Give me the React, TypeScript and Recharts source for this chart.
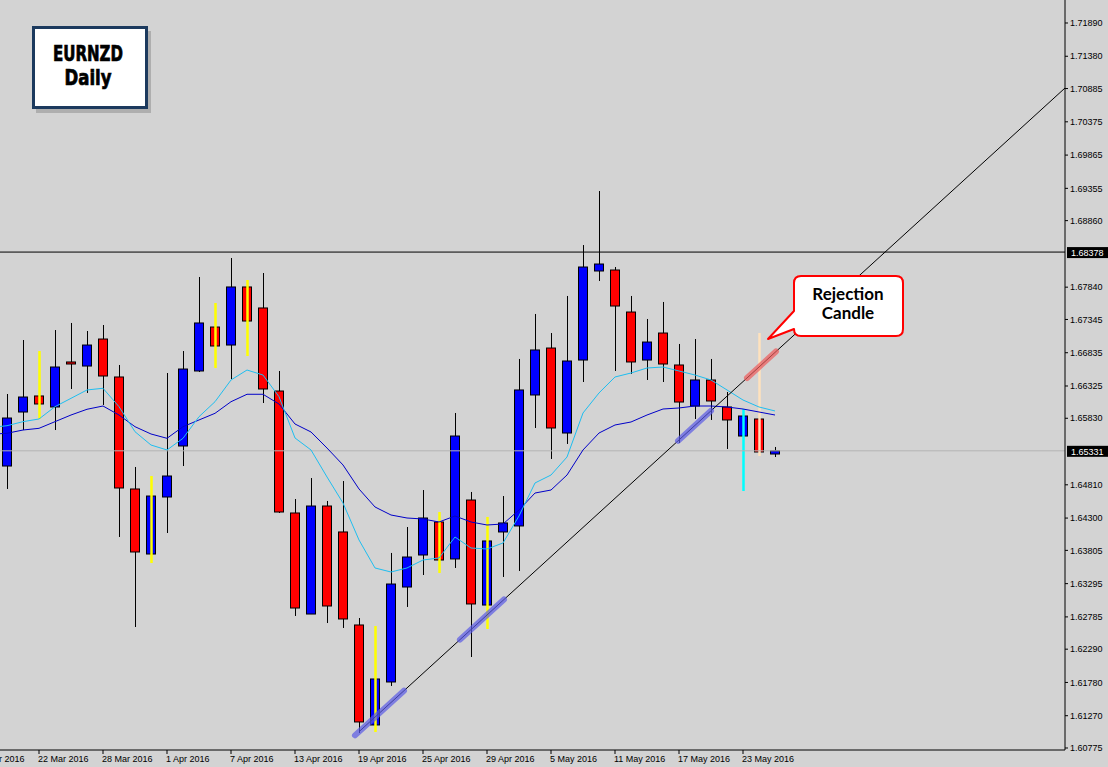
import React from "react";
import { ComposedChart, Bar, Line, XAxis, YAxis, ReferenceLine } from "recharts";

// EURNZD daily bars, 18 Mar 2016 .. 25 May 2016
const dates = [
  "18 Mar 2016", "21 Mar 2016", "22 Mar 2016", "23 Mar 2016", "24 Mar 2016", "25 Mar 2016",
  "28 Mar 2016", "29 Mar 2016", "30 Mar 2016", "31 Mar 2016", "1 Apr 2016", "4 Apr 2016",
  "5 Apr 2016", "6 Apr 2016", "7 Apr 2016", "8 Apr 2016", "11 Apr 2016", "12 Apr 2016",
  "13 Apr 2016", "14 Apr 2016", "15 Apr 2016", "18 Apr 2016", "19 Apr 2016", "20 Apr 2016",
  "21 Apr 2016", "22 Apr 2016", "25 Apr 2016", "26 Apr 2016", "27 Apr 2016", "28 Apr 2016",
  "29 Apr 2016", "2 May 2016", "3 May 2016", "4 May 2016", "5 May 2016", "6 May 2016",
  "9 May 2016", "10 May 2016", "11 May 2016", "12 May 2016", "13 May 2016", "16 May 2016",
  "17 May 2016", "18 May 2016", "19 May 2016", "20 May 2016", "23 May 2016", "24 May 2016",
  "25 May 2016",
];

const opens = [
  1.65098, 1.65926, 1.66172, 1.66003, 1.66693, 1.66631, 1.67045, 1.66463, 1.64746, 1.63749,
  1.64623, 1.65405, 1.66555, 1.67229, 1.66953, 1.67843, 1.67521, 1.66248, 1.64378, 1.62829,
  1.64485, 1.64087, 1.62661, 1.61128, 1.61787, 1.63243, 1.63734, 1.6424, 1.63673, 1.64577,
  1.62967, 1.64087, 1.64179, 1.66187, 1.66907, 1.65604, 1.66723, 1.68088, 1.68103, 1.67459,
  1.66723, 1.67137, 1.66647, 1.66018, 1.66417, 1.66003, 1.65558, 1.65819, 1.65282,
];
const highs = [
  1.66202, 1.6703, 1.66861, 1.67183, 1.67291, 1.67168, 1.6726, 1.66647, 1.65083, 1.64945,
  1.66524, 1.66861, 1.67996, 1.67597, 1.68287, 1.6795, 1.68057, 1.66555, 1.64592, 1.64914,
  1.64562, 1.64868, 1.62768, 1.62645, 1.63765, 1.64163, 1.6473, 1.64393, 1.65911, 1.647,
  1.64317, 1.64638, 1.66739, 1.67429, 1.67137, 1.67705, 1.68486, 1.69314, 1.68149, 1.67705,
  1.67352, 1.67613, 1.66969, 1.67045, 1.66739, 1.66233, 1.65972, 1.67137, 1.6539,
];
const lows = [
  1.64746, 1.6565, 1.65819, 1.6565, 1.66279, 1.66218, 1.66034, 1.6401, 1.6263, 1.63611,
  1.64071, 1.65098, 1.66539, 1.66601, 1.66432, 1.66785, 1.66064, 1.64378, 1.62799, 1.62829,
  1.62691, 1.62615, 1.61005, 1.6102, 1.61726, 1.62937, 1.63427, 1.63458, 1.63535, 1.6217,
  1.62599, 1.63397, 1.63489, 1.65681, 1.65206, 1.65436, 1.66386, 1.67935, 1.66555, 1.66509,
  1.66417, 1.66386, 1.65451, 1.65819, 1.65804, 1.65359, 1.64715, 1.65252, 1.65236,
];
const closes = [
  1.65834, 1.66156, 1.66049, 1.66616, 1.66662, 1.66953, 1.66478, 1.64761, 1.6378, 1.64638,
  1.64945, 1.66585, 1.67291, 1.66938, 1.67843, 1.67321, 1.66279, 1.64393, 1.62921, 1.64485,
  1.62952, 1.62753, 1.61174, 1.61833, 1.63289, 1.63703, 1.64301, 1.63657, 1.65558, 1.62983,
  1.63949, 1.64225, 1.66264, 1.66877, 1.65681, 1.66708, 1.68149, 1.68195, 1.67551, 1.66693,
  1.66999, 1.66662, 1.66079, 1.66417, 1.66095, 1.65804, 1.65865, 1.65313, 1.65331,
];

// fast (light blue) and slow (dark blue) moving averages
const fastMa = [
  1.65716, 1.65778, 1.65819, 1.66008, 1.66136, 1.66264, 1.6629, 1.66008, 1.65624, 1.6542,
  1.65344, 1.65523, 1.65854, 1.66084, 1.66417, 1.6657, 1.66493, 1.66161, 1.65528, 1.65344,
  1.6493, 1.64531, 1.63964, 1.63535, 1.63473, 1.63535, 1.63657, 1.63688, 1.6401, 1.63841,
  1.63826, 1.63918, 1.64332, 1.64838, 1.6496, 1.65236, 1.65911, 1.66218, 1.66463, 1.66524,
  1.66601, 1.66616, 1.66555, 1.66493, 1.66417, 1.66264, 1.6611, 1.66003, 1.65942,
];
const slowMa = [
  1.656, 1.6565, 1.65676, 1.65778, 1.6588, 1.65968, 1.66018, 1.6588, 1.65701, 1.65589,
  1.65523, 1.65701, 1.65804, 1.65906, 1.66084, 1.66198, 1.66198, 1.66049, 1.65742, 1.6562,
  1.65374, 1.65114, 1.64746, 1.6447, 1.64347, 1.64301, 1.64286, 1.6424, 1.64332, 1.6424,
  1.64194, 1.64209, 1.64424, 1.64684, 1.6473, 1.6496, 1.65344, 1.65604, 1.65727, 1.65773,
  1.6588, 1.65972, 1.65988, 1.66018, 1.66018, 1.66003, 1.65972, 1.65926, 1.6588,
];
const prevFast = 1.65689;
const prevSlow = 1.65585;

// candles whose range is marked with a coloured line
const marks: Record<number, string> = {
  2: "#ffff00", 9: "#ffff00", 13: "#ffff00", 15: "#ffff00", 23: "#ffff00",
  27: "#ffff00", 30: "#ffff00", 46: "#00ffff", 47: "#ffe2bd",
};

const yTicks = [
  1.7189, 1.7138, 1.70885, 1.70375, 1.69865, 1.69355, 1.6886, 1.6784, 1.67345, 1.66835,
  1.66325, 1.6583, 1.6481, 1.643, 1.63805, 1.63295, 1.62785, 1.6229, 1.6178, 1.6127, 1.60775,
];
const xTicks = [2, 6, 10, 14, 18, 22, 26, 30, 34, 38, 42, 46];

const resistance = 1.68378;
const lastPrice = 1.65331;
const trendLine = [
  { x: 22.0, y: 1.61025 },
  { x: 66.125, y: 1.70893 },
];
const highlights = [
  { from: [21.75, 1.60969], to: [24.81, 1.61653], color: "#5a5ae6" },
  { from: [28.31, 1.62436], to: [31.06, 1.63051], color: "#5a5ae6" },
  { from: [41.94, 1.65484], to: [44.0, 1.65945], color: "#5a5ae6" },
  { from: [46.25, 1.66448], to: [48.06, 1.66853], color: "#ee5a5a" },
];

const chartData = [
  { i: -1, fast: prevFast, slow: prevSlow },
  ...opens.map((o, i) => ({
    i,
    open: o,
    high: highs[i],
    low: lows[i],
    close: closes[i],
    range: [lows[i], highs[i]],
    fast: fastMa[i],
    slow: slowMa[i],
    mark: marks[i],
  })),
];

const Candle = (props: any) => {
  const { x, y, width, height, payload } = props;
  if (!payload || payload.open == null) return null;
  const { open, close, high, low, mark } = payload;
  const cx = Math.round(x + width / 2) + 0.5;
  const py = (v: number) => y + ((high - v) / (high - low)) * height;
  const top = py(Math.max(open, close));
  const bot = py(Math.min(open, close));
  const bull = close > open;
  return (
    <g>
      {!mark && <line x1={cx} x2={cx} y1={y} y2={y + height} stroke="#000" strokeWidth={1} />}
      <rect
        x={cx - 5}
        y={top}
        width={9}
        height={Math.max(bot - top, 1)}
        fill={bull ? "#0000ff" : "#ff0000"}
        stroke="#000"
        strokeWidth={1}
      />
      {mark && <line x1={cx} x2={cx} y1={y} y2={y + height} stroke={mark} strokeWidth={2.5} />}
    </g>
  );
};

const XTick = (props: any) => {
  const { x, y, payload, index } = props;
  const label = dates[payload.value];
  const style = { fontSize: 9, fontFamily: "'Liberation Sans', Arial, sans-serif", fill: "#000" };
  return (
    <g>
      {index === 0 && (
        <text x={x - 65} y={y} dy="0.71em" textAnchor="start" style={style}>
          16 Mar 2016
        </text>
      )}
      <text x={x - 1} y={y} dy="0.71em" textAnchor="start" style={style}>
        {label}
      </text>
    </g>
  );
};

const PriceTag = (value: string) => (props: any) => {
  const { viewBox } = props;
  const right = viewBox.x + viewBox.width;
  const cy = viewBox.y;
  return (
    <g>
      <rect x={right + 2} y={cy - 5} width={41} height={11} fill="#000" />
      <text
        x={right + 6}
        y={cy + 4}
        fill="#fff"
        style={{ fontSize: 9, fontFamily: "'Liberation Sans', Arial, sans-serif" }}
      >
        {value}
      </text>
    </g>
  );
};

const titleFont = {
  fontFamily: "'DejaVu Sans Condensed', 'DejaVu Sans', sans-serif",
  fontWeight: 700,
  fontSize: 22,
};

export default function App() {
  return (
    <div
      style={{
        position: "absolute",
        left: 0,
        top: 0,
        width: 1108,
        height: 767,
        background: "#d3d3d3",
        overflow: "hidden",
      }}
    >
      <ComposedChart
        width={1108}
        height={767}
        data={chartData}
        margin={{ top: 0, right: 0, bottom: 0, left: 0 }}
        style={{ fontFamily: "'Liberation Sans', Arial, sans-serif" }}
      >
        <XAxis
          type="number"
          dataKey="i"
          domain={[-0.4375, 66.125]}
          allowDataOverflow
          ticks={xTicks}
          interval={0}
          height={17}
          axisLine={{ stroke: "#000" }}
          tickLine={{ stroke: "#000" }}
          tickSize={4}
          tickMargin={2}
          tick={<XTick />}
        />
        <YAxis
          type="number"
          orientation="right"
          domain={[1.607443, 1.722426]}
          allowDataOverflow
          ticks={yTicks}
          interval={0}
          width={43}
          axisLine={{ stroke: "#000" }}
          tickLine={{ stroke: "#000" }}
          tickSize={3}
          tickMargin={2}
          tick={{ fill: "#000", fontSize: 9, fontFamily: "'Liberation Sans', Arial, sans-serif" }}
          tickFormatter={(v: number) => v.toFixed(5)}
        />
        <ReferenceLine y={lastPrice} stroke="#b4b4b4" label={PriceTag(lastPrice.toFixed(5))} />
        <ReferenceLine y={resistance} stroke="#000" label={PriceTag(resistance.toFixed(5))} />
        <Line
          dataKey="slow"
          stroke="#0000c8"
          strokeWidth={1}
          dot={false}
          activeDot={false}
          type="linear"
          isAnimationActive={false}
        />
        <Line
          dataKey="fast"
          stroke="#1ebef0"
          strokeWidth={1}
          dot={false}
          activeDot={false}
          type="linear"
          isAnimationActive={false}
        />
        <ReferenceLine segment={trendLine} stroke="#000" strokeWidth={1} ifOverflow="visible" />
        {highlights.map((h, k) => (
          <ReferenceLine
            key={k}
            segment={[
              { x: h.from[0], y: h.from[1] },
              { x: h.to[0], y: h.to[1] },
            ]}
            stroke={h.color}
            strokeOpacity={0.7}
            strokeWidth={6}
            strokeLinecap="round"
            ifOverflow="visible"
          />
        ))}
        <Bar
          dataKey="range"
          barSize={10}
          shape={<Candle />}
          activeBar={false}
          isAnimationActive={false}
        />
      </ComposedChart>

      <svg
        width={1108}
        height={767}
        style={{ position: "absolute", left: 0, top: 0, pointerEvents: "none" }}
      >
        {/* title box */}
        <rect x={36} y={31} width={115} height={82} fill="#8a8a8a" opacity={0.5} />
        <rect x={33.5} y={27.5} width={113} height={80} fill="#fff" stroke="#1c3a5e" strokeWidth={3} />
        <text
          x={88}
          y={61}
          textAnchor="middle"
          textLength={70}
          lengthAdjust="spacingAndGlyphs"
          stroke="#000"
          strokeWidth={0.7}
          style={titleFont}
        >
          EURNZD
        </text>
        <text
          x={88}
          y={85}
          textAnchor="middle"
          textLength={47}
          lengthAdjust="spacingAndGlyphs"
          stroke="#000"
          strokeWidth={0.7}
          style={titleFont}
        >
          Daily
        </text>

        {/* callout */}
        <path
          d="M801,276 H896 Q903,276 903,283 V329 Q903,336 896,336 H801 Q794,336 794,329 L768,339 L794,311 V283 Q794,276 801,276 Z"
          fill="#fff"
          stroke="#ff0000"
          strokeWidth={2}
          strokeLinejoin="round"
        />
        <text
          x={848}
          y={300}
          textAnchor="middle"
          style={{ fontFamily: "Lato, 'Open Sans', sans-serif", fontWeight: 700, fontSize: 17 }}
        >
          Rejection
        </text>
        <text
          x={848}
          y={319}
          textAnchor="middle"
          style={{ fontFamily: "Lato, 'Open Sans', sans-serif", fontWeight: 700, fontSize: 17 }}
        >
          Candle
        </text>
      </svg>
    </div>
  );
}
